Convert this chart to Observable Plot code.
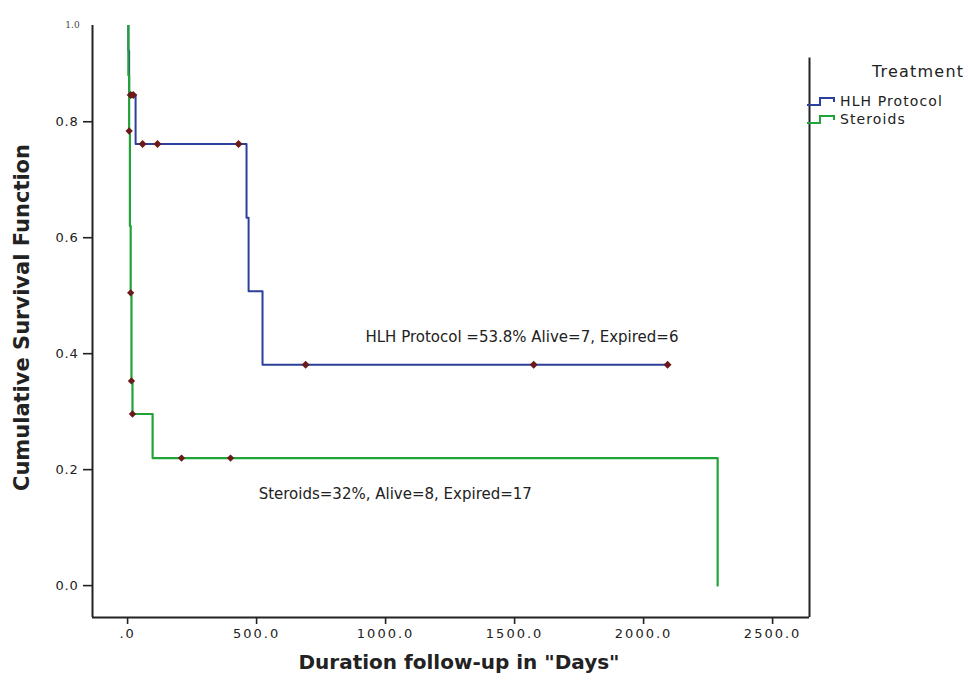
<!DOCTYPE html>
<html><head><meta charset="utf-8">
<script src="https://cdn.jsdelivr.net/npm/d3@7"></script>
<script src="https://cdn.jsdelivr.net/npm/@observablehq/plot@0.6"></script>
<style>
body{margin:0;background:#fff;}
#wrap{position:relative;width:968px;height:683px;overflow:hidden;}
#wrap > svg{position:absolute;left:0;top:0;}
g[aria-label="x-axis tick label"] text{letter-spacing:2px;}
g[aria-label="y-axis tick label"] text{letter-spacing:0.8px;}
g[aria-label="notes"] text{letter-spacing:0.8px;}
g[aria-label="xtitle"] text{letter-spacing:0.5px;}
g[aria-label="ytitle"] text{letter-spacing:1px;}
.lg{position:absolute;font-family:"DejaVu Sans",sans-serif;color:#222;white-space:nowrap;}
.row{position:absolute;left:807px;display:flex;align-items:center;height:16px;font-family:"DejaVu Sans",sans-serif;font-size:14px;letter-spacing:1.1px;color:#222;white-space:nowrap;}
#wrap .row svg{position:static;display:block;margin-right:2px;}
</style></head><body><div id="wrap"></div>
<script>
// ---- data ----
const groups = ["HLH Protocol", "Steroids"];
const groupColors = ["#2b3f9b", "#22a33a"];
const hlhDays = [0, 3, 6, 31, 461, 469, 523, 2093];
const hlhSurv = [1.0, 0.923, 0.846, 0.7615, 0.6346, 0.5077, 0.3808, 0.3808];
const hlhCensorDays = [12, 22, 58, 116, 430, 690, 1574, 2093];
const hlhCensorSurv = [0.846, 0.846, 0.7615, 0.7615, 0.7615, 0.3808, 0.3808, 0.3808];
const sterDays = [0, 3, 6, 9, 12, 15, 19, 97, 2287];
const sterSurv = [1.0, 0.88, 0.784, 0.62, 0.505, 0.353, 0.296, 0.22, 0.0];
const sterCensorDays = [6, 12, 15, 19, 209, 399];
const sterCensorSurv = [0.784, 0.505, 0.353, 0.296, 0.22, 0.22];
const xTicks = [0, 500, 1000, 1500, 2000, 2500];
const yTicks = [0, 0.2, 0.4, 0.6, 0.8];
const notes = ["HLH Protocol =53.8% Alive=7, Expired=6", "Steroids=32%, Alive=8, Expired=17"];
const noteDays = [922, 508];
const noteSurv = [0.429, 0.157];
const xTitle = 'Duration follow-up in "Days"';
const yTitle = "Cumulative Survival Function";
const legendTitle = "Treatment";

// ---- layout ----
const xDomain = [-136, 2643];
const yDomain = [-0.055, 0.966];
const rightFrameTop = 0.91;
const censorColor = "#6b1a1a";
const ink = "#222";

const hlh = hlhDays.map((t, i) => ({t, s: hlhSurv[i]}));
const ster = sterDays.map((t, i) => ({t, s: sterSurv[i]}));
const hlhC = hlhCensorDays.map((t, i) => ({t, s: hlhCensorSurv[i]}));
const sterC = sterCensorDays.map((t, i) => ({t, s: sterCensorSurv[i]}));
const noteData = notes.map((label, i) => ({label, t: noteDays[i], s: noteSurv[i]}));
const xFmt = d => d === 0 ? ".0" : d.toFixed(1);

const chart = Plot.plot({
  width: 968, height: 683,
  marginLeft: 92, marginRight: 159, marginTop: 25, marginBottom: 66,
  style: {fontFamily: "DejaVu Sans", background: "transparent", color: ink},
  x: {domain: xDomain, axis: null},
  y: {domain: yDomain, axis: null},
  marks: [
    Plot.axisX(xTicks, {tickFormat: xFmt, tickSize: 7, tickPadding: 4, fontSize: 13, color: ink, strokeWidth: 1.6, label: null}),
    Plot.axisY(yTicks, {tickFormat: d3.format(".1f"), tickSize: 9, tickPadding: 5, fontSize: 13, color: ink, strokeWidth: 1.6, label: null}),
    Plot.ruleX([xDomain[0]], {stroke: ink, strokeWidth: 2}),
    Plot.ruleY([yDomain[0]], {stroke: ink, strokeWidth: 2}),
    Plot.ruleX([xDomain[1]], {y1: yDomain[0], y2: rightFrameTop, stroke: ink, strokeWidth: 2}),
    Plot.line(hlh, {x: "t", y: "s", curve: "step-after", stroke: groupColors[0], strokeWidth: 2, clip: true}),
    Plot.line(ster, {x: "t", y: "s", curve: "step-after", stroke: groupColors[1], strokeWidth: 2.2, clip: true}),
    Plot.dot(sterC, {x: "t", y: "s", symbol: "diamond2", r: 3.3, fill: censorColor, stroke: "none"}),
    Plot.dot(hlhC, {x: "t", y: "s", symbol: "diamond2", r: 3.6, fill: censorColor, stroke: "none"}),
    Plot.text(noteData, {x: "t", y: "s", text: "label", textAnchor: "start", fontSize: 15, fill: ink, ariaLabel: "notes"}),
    Plot.text([xTitle], {frameAnchor: "bottom", textAnchor: "middle", dy: 51, dx: 8, fontSize: 20, fontWeight: "bold", fill: ink, ariaLabel: "xtitle"}),
    Plot.text([yTitle], {frameAnchor: "left", textAnchor: "middle", dx: -70, dy: -4, rotate: -90, fontSize: 21, fontWeight: "bold", fill: ink, ariaLabel: "ytitle"}),
    Plot.text(["1.0"], {frameAnchor: "top-left", textAnchor: "middle", dx: -20, dy: -4, fontSize: 9, fontFamily: "DejaVu Serif", fill: "#444"})
  ]
});

const wrap = document.getElementById("wrap");
wrap.appendChild(chart);

// legend
const t = document.createElement("div");
t.className = "lg";
t.style.cssText = "left:872px;top:62px;font-size:16px;letter-spacing:1.2px;";
t.textContent = legendTitle;
wrap.appendChild(t);
const rowTops = [93, 111];
groups.forEach((g, i) => {
  const row = document.createElement("div");
  row.className = "row";
  row.style.top = rowTops[i] + "px";
  row.innerHTML = `<svg width="31" height="14"><path d="M0,11H13V4H27V8" fill="none" stroke="${groupColors[i]}" stroke-width="2"/></svg><span></span>`;
  row.querySelector("span").textContent = g;
  wrap.appendChild(row);
});
</script>
</body></html>
